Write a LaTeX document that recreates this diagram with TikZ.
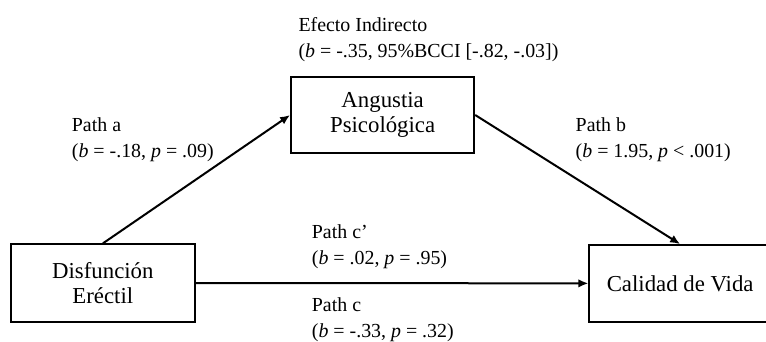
\documentclass[tikz,border=0pt]{standalone}
\usepackage{fontspec}
\setmainfont{Liberation Serif}
\usetikzlibrary{arrows.meta}
\begin{document}
\begin{tikzpicture}[x=1pt,y=-1pt,
  box/.style={draw, line width=1.8pt, inner sep=0pt, align=center,
    font=\fontsize{22.8}{24.5}\selectfont},
  lbl/.style={anchor=west, align=left, inner sep=0pt,
    font=\fontsize{19.9}{25.5}\selectfont},
  arr/.style={line width=2pt, -{Latex[length=10pt,width=8.5pt]}}]
\useasboundingbox (0,0) rectangle (766,341);
\clip (0,0) rectangle (766,341);
\fill[white] (0,0) rectangle (766,341);
\node[box, minimum width=184.3pt, minimum height=77.4pt] (dis) at (102.85,283) {Disfunción\\Eréctil};
\node[box, minimum width=183.3pt, minimum height=76.6pt] (ang) at (382.65,115) {Angustia\\Psicológica};
\node[box, minimum width=181.7pt, minimum height=76.7pt] (cal) at (680.15,283.35) {Calidad de Vida};
\draw[arr] (dis.north) -- (ang.west);
\draw[arr] (ang.east) -- (cal.north);
\draw[arr] (dis.east) -- (cal.west);
\node[lbl] (eff) at (298.3,39.5) {Efecto Indirecto\\(\textit{b} = -.35, 95\%BCCI [-.82, -.03])};
\node[lbl] (pa) at (71.7,139.5) {Path a\\(\textit{b} = -.18, \textit{p} = .09)};
\node[lbl] (pb) at (575.5,139.5) {Path b\\(\textit{b} = 1.95, \textit{p} < .001)};
\node[lbl] (pcp) at (311.7,246.5) {Path c’\\(\textit{b} = .02, \textit{p} = .95)};
\node[lbl] (pc) at (311.7,319.5) {Path c\\(\textit{b} = -.33, \textit{p} = .32)};
\end{tikzpicture}
\end{document}
